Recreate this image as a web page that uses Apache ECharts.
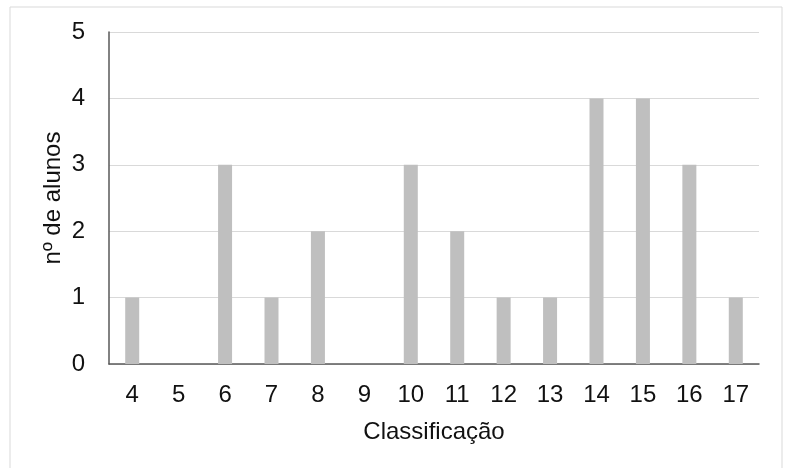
<!DOCTYPE html>
<html><head><meta charset="utf-8">
<script src="https://cdn.jsdelivr.net/npm/echarts@6/dist/echarts.min.js"></script>
<style>html,body{margin:0;padding:0;background:#fff}#c{width:785px;height:468px}</style>
</head><body><div id="c"></div>
<script>
const categories = ['4','5','6','7','8','9','10','11','12','13','14','15','16','17'];
const values = [1,0,3,1,2,0,3,2,1,1,4,4,3,1];
const yTicks = [0,1,2,3,4,5];

const FONT = 'Liberation Sans, Arial, sans-serif';
const chart = echarts.init(document.getElementById('c'), null, {renderer:'canvas'});
chart.setOption({
  backgroundColor:'#fff',
  animation:false,
  textStyle:{fontFamily:FONT},
  graphic:[{type:'rect',shape:{x:10,y:7,width:772,height:470},style:{fill:'none',stroke:'#d9d9d9',lineWidth:1},silent:true}],
  grid:{left:109,right:26,top:32,bottom:104},
  xAxis:{type:'category',data:categories,
    name:'Classificação',nameLocation:'middle',nameGap:56,nameMoveOverlap:false,
    nameTextStyle:{fontSize:24,color:'#111',fontFamily:FONT},
    axisLine:{lineStyle:{color:'#595959',width:1.5}},
    axisTick:{show:false},
    axisLabel:{fontSize:24,color:'#111',margin:19,fontFamily:FONT}},
  yAxis:{type:'value',min:yTicks[0],max:yTicks[yTicks.length-1],interval:1,
    name:'nº de alunos',nameLocation:'middle',nameGap:44,nameMoveOverlap:false,
    nameTextStyle:{fontSize:24,color:'#111',fontFamily:FONT},
    axisLine:{show:true,lineStyle:{color:'#595959',width:1.5}},
    axisTick:{show:false},
    splitLine:{lineStyle:{color:'#d9d9d9',width:1}},
    axisLabel:{fontSize:24,color:'#111',margin:24,fontFamily:FONT}},
  series:[{type:'bar',data:values,barWidth:14,itemStyle:{color:'#bfbfbf'}}]
});
</script></body></html>
